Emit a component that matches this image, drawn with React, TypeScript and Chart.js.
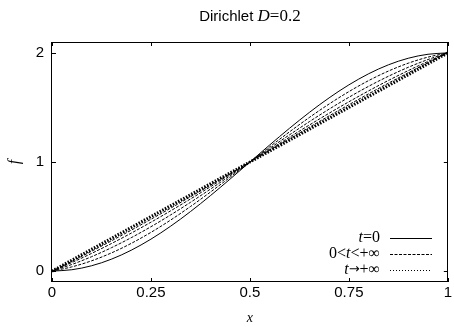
import React, { useEffect, useRef } from "react";
import { Chart, registerables } from "chart.js";

Chart.register(...registerables);

// ---- data ----
const xValues = [0, 0.05, 0.1, 0.15, 0.2, 0.25, 0.3, 0.35, 0.4, 0.45, 0.5, 0.55, 0.6, 0.65, 0.7, 0.75, 0.8, 0.85, 0.9, 0.95, 1];

// t = 0 (solid)
const fT0 = [0, 0.0123, 0.0489, 0.109, 0.191, 0.2929, 0.4122, 0.546, 0.691, 0.8436, 1, 1.1564, 1.309, 1.454, 1.5878, 1.7071, 1.809, 1.891, 1.9511, 1.9877, 2];

// 0 < t < +inf (dashed)
const fMid1 = [0, 0.0386, 0.0942, 0.1663, 0.2537, 0.355, 0.4685, 0.5922, 0.7237, 0.8605, 1, 1.1395, 1.2763, 1.4078, 1.5315, 1.645, 1.7463, 1.8337, 1.9058, 1.9614, 2];
const fMid2 = [0, 0.0605, 0.132, 0.214, 0.3059, 0.4068, 0.5155, 0.6307, 0.7509, 0.8746, 1, 1.1254, 1.2491, 1.3693, 1.4845, 1.5932, 1.6941, 1.786, 1.868, 1.9395, 2];
const fMid3 = [0, 0.0781, 0.1622, 0.2522, 0.3477, 0.4482, 0.553, 0.6615, 0.7727, 0.8859, 1, 1.1141, 1.2273, 1.3385, 1.447, 1.5518, 1.6523, 1.7478, 1.8378, 1.9219, 2];
const fMid4 = [0, 0.0895, 0.1819, 0.2771, 0.3749, 0.4751, 0.5775, 0.6815, 0.7869, 0.8932, 1, 1.1068, 1.2131, 1.3185, 1.4225, 1.5249, 1.6251, 1.7229, 1.8181, 1.9105, 2];

// t -> +inf (dotted)
const fLate = [0, 0.0965, 0.194, 0.2924, 0.3916, 0.4917, 0.5925, 0.6938, 0.7956, 0.8977, 1, 1.1023, 1.2044, 1.3062, 1.4075, 1.5083, 1.6084, 1.7076, 1.806, 1.9035, 2];
const fInf = [0, 0.1, 0.2, 0.3, 0.4, 0.5, 0.6, 0.7, 0.8, 0.9, 1, 1.1, 1.2, 1.3, 1.4, 1.5, 1.6, 1.7, 1.8, 1.9, 2];

const xTicks = [0, 0.25, 0.5, 0.75, 1];
const xTickLabels = ["0", "0.25", "0.5", "0.75", "1"];
const yTicks = [0, 1, 2];
const yTickLabels = ["0", "1", "2"];

const titleText = [
  { t: "Dirichlet ", kind: "sans" },
  { t: "D", kind: "serifItalic" },
  { t: "=0.2", kind: "serif" },
];
const xAxisLabel = "x";
const yAxisLabel = "f";
const legendEntries = [
  [{ t: "t", kind: "serifItalic" }, { t: "=0", kind: "serif" }],
  [{ t: "0<", kind: "serif" }, { t: "t", kind: "serifItalic" }, { t: "<+∞", kind: "serif" }],
  [{ t: "t", kind: "serifItalic" }, { t: "→", kind: "arrow" }, { t: "+∞", kind: "serif" }],
];

const SANS = "'Liberation Sans', Arial, sans-serif";
const SERIF = "'Liberation Serif', 'Times New Roman', serif";

function fontFor(kind: string, size: number) {
  if (kind === "sans") return `${size}px ${SANS}`;
  if (kind === "serifItalic") return `italic ${size}px ${SERIF}`;
  if (kind === "arrow") return `${size}px 'DejaVu Sans', sans-serif`;
  return `${size}px ${SERIF}`;
}

function drawSegs(ctx: CanvasRenderingContext2D, segs: any[], x: number, y: number, align: string, sizes: any) {
  let total = 0;
  const widths = segs.map((s) => {
    ctx.font = fontFor(s.kind, sizes[s.kind]);
    const w = ctx.measureText(s.t).width;
    total += w;
    return w;
  });
  let cx = align === "right" ? x - total : align === "center" ? x - total / 2 : x;
  ctx.textAlign = "left";
  ctx.textBaseline = "middle";
  segs.forEach((s, i) => {
    ctx.font = fontFor(s.kind, sizes[s.kind]);
    ctx.fillText(s.t, cx, y);
    cx += widths[i];
  });
}

const decorPlugin = {
  id: "decor",
  afterDraw(chart: any) {
    const ctx: CanvasRenderingContext2D = chart.ctx;
    const a = chart.chartArea;
    const xs = chart.scales.x;
    const ys = chart.scales.y;
    ctx.save();
    ctx.strokeStyle = "#000";
    ctx.fillStyle = "#000";
    ctx.lineWidth = 1;
    ctx.setLineDash([]);
    // frame
    ctx.strokeRect(Math.round(a.left) - 0.5, Math.round(a.top) + 0.5, Math.round(a.right - a.left), Math.round(a.bottom - a.top) - 1);
    // inward ticks
    const tl = 4;
    ctx.beginPath();
    xTicks.forEach((v) => {
      const px = Math.round(xs.getPixelForValue(v)) + 0.5;
      ctx.moveTo(px, a.bottom);
      ctx.lineTo(px, a.bottom - tl);
      ctx.moveTo(px, a.top);
      ctx.lineTo(px, a.top + tl);
    });
    yTicks.forEach((v) => {
      const py = Math.round(ys.getPixelForValue(v)) + 0.5;
      ctx.moveTo(a.left, py);
      ctx.lineTo(a.left + tl, py);
      ctx.moveTo(a.right, py);
      ctx.lineTo(a.right - tl, py);
    });
    ctx.stroke();

    const cxPlot = (a.left + a.right) / 2;
    // title
    drawSegs(ctx, titleText, cxPlot, 17, "center", { sans: 15, serif: 17, serifItalic: 17 });
    // x label
    ctx.font = fontFor("serifItalic", 14);
    ctx.textAlign = "center";
    ctx.textBaseline = "middle";
    ctx.fillText(xAxisLabel, cxPlot, 318);
    // y label
    ctx.save();
    ctx.translate(15, (a.top + a.bottom) / 2);
    ctx.rotate(-Math.PI / 2);
    ctx.font = fontFor("serifItalic", 16);
    ctx.fillText(yAxisLabel, 0, 0);
    ctx.restore();

    // legend
    const rows = [238, 254, 270];
    const dashes = [[], [3, 1.5], [1, 2]];
    legendEntries.forEach((segs, i) => {
      drawSegs(ctx, segs, 380, rows[i], "right", { sans: 15, serif: 16, serifItalic: 16, arrow: 13 });
      ctx.beginPath();
      ctx.setLineDash(dashes[i]);
      ctx.moveTo(390, rows[i] + 0.5);
      ctx.lineTo(432, rows[i] + 0.5);
      ctx.stroke();
    });
    ctx.restore();
  },
};

function series(ys: number[]) {
  return xValues.map((x, i) => ({ x, y: ys[i] }));
}

export default function App() {
  const ref = useRef<HTMLCanvasElement | null>(null);
  useEffect(() => {
    document.body.style.margin = "0";
    const base = {
      borderColor: "#000",
      borderWidth: 1,
      pointRadius: 0,
      cubicInterpolationMode: "monotone" as const,
      fill: false,
    };
    const chart = new Chart(ref.current as HTMLCanvasElement, {
      type: "line",
      data: {
        datasets: [
          { ...base, data: series(fT0) },
          { ...base, data: series(fMid1), borderDash: [3, 1.5] },
          { ...base, data: series(fMid2), borderDash: [3, 1.5] },
          { ...base, data: series(fMid3), borderDash: [3, 1.5] },
          { ...base, data: series(fMid4), borderDash: [3, 1.5] },
          { ...base, data: series(fLate), borderDash: [1, 2] },
          { ...base, data: series(fInf), borderDash: [1.5, 1.5], borderWidth: 3 },
        ],
      },
      options: {
        animation: false,
        responsive: false,
        devicePixelRatio: 1,
        layout: { padding: { top: 42, right: 2, left: 0, bottom: 0 } },
        plugins: { legend: { display: false }, title: { display: false }, tooltip: { enabled: false } },
        scales: {
          x: {
            type: "linear",
            min: 0,
            max: 1,
            grid: { display: false, drawTicks: false },
            border: { display: false },
            afterBuildTicks: (s: any) => {
              s.ticks = xTicks.map((v) => ({ value: v }));
            },
            afterFit: (s: any) => {
              s.height = 45;
            },
            ticks: {
              padding: 2,
              color: "#000",
              font: { family: SANS, size: 15 },
              maxRotation: 0,
              autoSkip: false,
              callback: (v: any) => xTickLabels[xTicks.indexOf(Number(v))] ?? "",
            },
          },
          y: {
            type: "linear",
            min: -0.1,
            max: 2.1,
            grid: { display: false, drawTicks: false },
            border: { display: false },
            afterBuildTicks: (s: any) => {
              s.ticks = yTicks.map((v) => ({ value: v }));
            },
            afterFit: (s: any) => {
              s.width = 52;
            },
            ticks: {
              padding: 8,
              color: "#000",
              font: { family: SANS, size: 15 },
              autoSkip: false,
              callback: (v: any) => yTickLabels[yTicks.indexOf(Number(v))] ?? "",
            },
          },
        },
      },
      plugins: [decorPlugin],
    } as any);
    return () => chart.destroy();
  }, []);
  return (
    <div style={{ position: "fixed", left: 0, top: 0, width: 454, height: 327 }}>
      <canvas ref={ref} width={454} height={327} style={{ display: "block" }} />
    </div>
  );
}
